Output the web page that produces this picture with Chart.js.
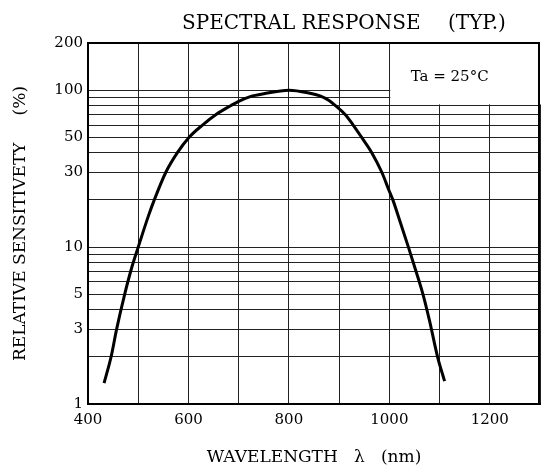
<!DOCTYPE html>
<html>
<head>
<meta charset="utf-8">
<script src="https://cdn.jsdelivr.net/npm/chart.js@4.4.1/dist/chart.umd.min.js"></script>
<style>
  html, body { margin: 0; padding: 0; background: #ffffff; }
  #wrap { width: 542px; height: 466px; position: relative; }
  canvas { display: block; }
</style>
</head>
<body>
<div id="wrap"><canvas id="c" width="542" height="466"></canvas></div>
<script>
// ---- data ----
const wavelengths = [432, 446, 457, 473, 486, 500, 520, 532, 555, 578, 601, 628, 655, 685, 700, 723, 750, 800, 840, 862, 880, 892, 912, 928, 945, 965, 985, 1000, 1007, 1020, 1038, 1052, 1067, 1080, 1096, 1110];
const sensitivity = [1.36, 2, 3, 5, 7.2, 10, 15.7, 20, 30, 40, 50, 60, 70, 80, 85, 91, 95, 100, 96, 92, 86, 80, 70, 60, 50, 40, 30, 22.7, 20, 15, 10, 7.2, 5, 3.4, 2, 1.4];

const xTickLabels = [400, 600, 800, 1000, 1200];
const yGridValues = [1, 2, 3, 4, 5, 6, 7, 8, 9, 10, 20, 30, 40, 50, 60, 70, 80, 90, 100, 200];
const yTickLabels = [1, 3, 5, 10, 30, 50, 100, 200];

const chartTitle = 'SPECTRAL RESPONSE';
const chartTitleNote = '(TYP.)';
const conditionText = 'Ta = 25°C';
const xTitle = 'WAVELENGTH   λ   (nm)';
const yTitle = 'RELATIVE SENSITIVETY     (%)';

const FONT = "'DejaVu Serif', 'Liberation Serif', serif";

const overlayPlugin = {
  id: 'overlay',
  beforeDatasetsDraw(chart) {
    const ctx = chart.ctx;
    const xs = chart.scales.x, ys = chart.scales.y;
    const ca = chart.chartArea;
    const bx = xs.getPixelForValue(1000);
    const by = ys.getPixelForValue(80);
    ctx.save();
    ctx.fillStyle = '#ffffff';
    ctx.fillRect(bx + 1, ca.top, ca.right - bx, by - ca.top - 1);
    ctx.restore();
  },
  afterDraw(chart) {
    const ctx = chart.ctx;
    const xs = chart.scales.x, ys = chart.scales.y;
    const ca = chart.chartArea;
    const bx = xs.getPixelForValue(1000);
    const by = ys.getPixelForValue(80);
    ctx.save();
    // frame
    ctx.strokeStyle = '#000';
    ctx.lineWidth = 2;
    ctx.strokeRect(ca.left, ca.top, ca.right - ca.left - 1, ca.bottom - ca.top);
    // condition box text
    ctx.fillStyle = '#000';
    ctx.font = "15px " + FONT;
    ctx.textAlign = 'center';
    ctx.textBaseline = 'middle';
    ctx.fillText(conditionText, (bx + ca.right) / 2 - 15, (ca.top + by) / 2 + 3);
    // title
    ctx.font = "20px " + FONT;
    ctx.textAlign = 'left';
    ctx.textBaseline = 'alphabetic';
    ctx.fillText(chartTitle, 182, 29);
    ctx.fillText(chartTitleNote, 448, 29);
    ctx.restore();
  }
};

new Chart(document.getElementById('c'), {
  type: 'line',
  data: {
    datasets: [{
      data: wavelengths.map((w, i) => ({ x: w, y: sensitivity[i] })),
      borderColor: '#000',
      borderWidth: 3,
      pointRadius: 0,
      cubicInterpolationMode: 'monotone',
      fill: false
    }]
  },
  options: {
    responsive: false,
    animation: false,
    layout: { padding: { top: 43, right: 2, left: 0, bottom: 0 } },
    plugins: { legend: { display: false }, tooltip: { enabled: false }, title: { display: false } },
    scales: {
      x: {
        type: 'linear',
        min: 400, max: 1300,
        afterFit(s) { s.height = 62; s.paddingLeft = 0; s.paddingRight = 0; },
        ticks: {
          stepSize: 100,
          autoSkip: false,
          maxRotation: 0,
          padding: 7,
          color: '#000',
          font: { family: FONT, size: 15 },
          callback: (v) => xTickLabels.includes(v) ? String(v) : ''
        },
        grid: { color: '#222', lineWidth: 1, drawTicks: false },
        border: { display: true, color: '#000', width: 2 },
        title: {
          display: true, text: xTitle, color: '#000',
          font: { family: FONT, size: 17, lineHeight: 1 },
          padding: { top: 0, bottom: 0 }
        }
      },
      y: {
        type: 'logarithmic',
        min: 1, max: 200,
        afterFit(s) { s.width = 88; s.paddingTop = 0; s.paddingBottom = 0; },
        afterBuildTicks(s) { s.ticks = yGridValues.map(v => ({ value: v })); },
        ticks: {
          autoSkip: false,
          padding: 5,
          color: '#000',
          font: { family: FONT, size: 15 },
          callback: (v) => yTickLabels.includes(v) ? String(v) : ''
        },
        grid: { color: '#222', lineWidth: 1, drawTicks: false },
        border: { display: true, color: '#000', width: 2 },
        title: {
          display: true, text: yTitle, color: '#000',
          font: { family: FONT, size: 17, lineHeight: 1.2 },
          padding: { top: 10, bottom: 0 }
        }
      }
    }
  },
  plugins: [overlayPlugin]
});
</script>
</body>
</html>
